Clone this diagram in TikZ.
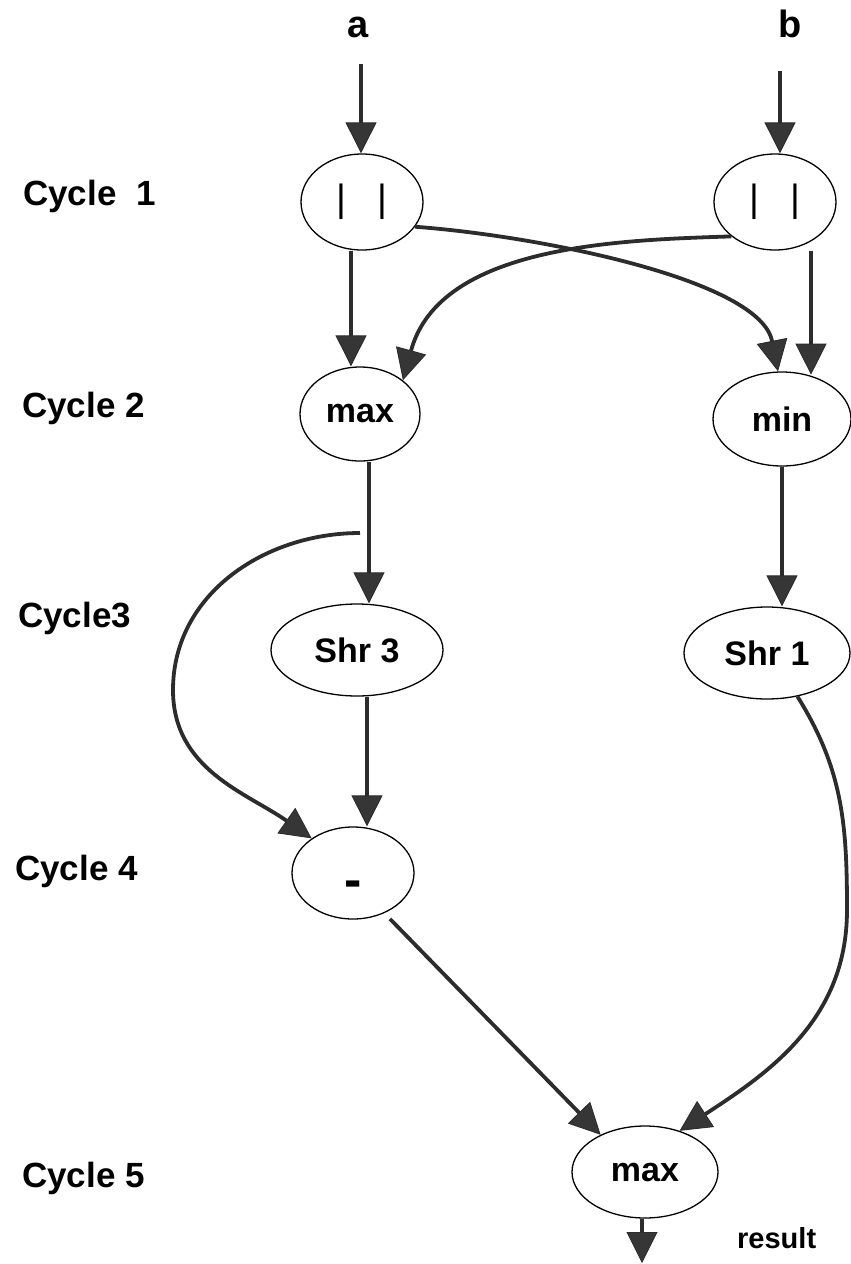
\documentclass[tikz,border=0pt]{standalone}
\usepackage{fontspec}
\setmainfont{Liberation Sans}
\usetikzlibrary{arrows.meta,shapes.geometric,calc}
\definecolor{inkgray}{HTML}{2C2C2C}
\definecolor{headgray}{HTML}{363636}
\begin{document}
\begin{tikzpicture}[x=1pt,y=1pt,
  op/.style={draw=black, line width=1.3pt, ellipse, inner sep=0pt,
             font=\fontsize{34}{40}\selectfont\bfseries},
  cyc/.style={anchor=base west, inner sep=0pt,
              font=\fontsize{35}{42}\selectfont\bfseries},
  inlabel/.style={anchor=base, inner sep=0pt,
                  font=\fontsize{38}{44}\selectfont\bfseries},
  flow/.style={draw=inkgray, line width=3.8pt,
               -{Triangle[width=31pt,length=31pt,fill=headgray,line width=0.9pt]}},
]
\useasboundingbox (0,0) rectangle (851,-1264);
\fill[white] (0,0) rectangle (851,-1264);

% cycle labels
\node[cyc] (c1) at (23,-205)  {Cycle~~1};
\node[cyc] (c2) at (22,-417)  {Cycle 2};
\node[cyc] (c3) at (18,-627)  {Cycle3};
\node[cyc] (c4) at (15,-880)  {Cycle 4};
\node[cyc] (c5) at (22,-1187) {Cycle 5};

% inputs
\node[inlabel] (la) at (358,-37) {a};
\node[inlabel] (lb) at (790,-37) {b};

% operation nodes
\node[op, minimum width=122pt, minimum height=96pt] (pa) at (362,-202)
  {\fontsize{38}{40}\selectfont\mdseries |\hspace{31pt}|};
\node[op, minimum width=122pt, minimum height=96pt] (pb) at (775,-202)
  {\fontsize{38}{40}\selectfont\mdseries |\hspace{31pt}|};
\node[op, minimum width=120pt, minimum height=94pt] (mx) at (360,-414) {max};
\node[op, minimum width=138pt, minimum height=94pt] (mn) at (782,-419) {min};
\node[op, minimum width=172pt, minimum height=92pt] (s3) at (357,-650) {Shr 3};
\node[op, minimum width=166pt, minimum height=92pt] (s1) at (767,-653) {Shr 1};
\node[op, minimum width=122pt, minimum height=92pt] (mi) at (353,-873)
  {\fontsize{52}{54}\selectfont\raisebox{-24pt}[0pt][0pt]{-}};
\node[op, minimum width=146pt, minimum height=92pt] (mf) at (645,-1172) {max};

\node[anchor=base west, inner sep=0pt, font=\fontsize{29}{34}\selectfont\bfseries]
  (lr) at (737,-1248) {result};

% free ends
\coordinate (ta) at (361,-64);
\coordinate (tb) at (780,-71);
\coordinate (br) at (360,-533);
\coordinate (res) at (642,-1263);

% cycle 1
\draw[flow] (ta) -- (ta |- pa.north);
\draw[flow] (tb) -- (tb |- pb.north);

% cycle 1 -> cycle 2
\draw[flow] ([xshift=-11pt]pa.south) -- ([xshift=-11pt]pa.south |- mx.north);
\draw[flow] ([xshift=36pt]pb.south) -- ([xshift=36pt]pb.south |- mn.60);
\draw[flow] (pa.-25) .. controls (540,-236) and (760,-280) .. ([xshift=-4pt]mn.north);
\draw[flow] (pb.south west) .. controls (620,-240) and (440,-245) .. (mx.north east);

% cycle 2 -> cycle 3
\draw[flow] ([xshift=9pt]mx.south) -- ([xshift=9pt]mx.south |- s3.north);
\draw[flow] (mn.south) -- (mn.south |- s1.north);

% cycle 3 -> cycle 4
\draw[flow] ([xshift=10pt]s3.south) -- ([xshift=10pt]s3.south |- mi.north);
\draw[flow] (br) to[out=180,in=90] (173,-690) to[out=-90,in=145] (mi.140);

% cycle 4 -> cycle 5
\draw[flow, shorten <=8pt] (mi.-52) -- (mf.140);
\draw[flow] (s1.-55) to[out=-58,in=90] (847,-910) to[out=-90,in=33] (mf.50);

% result
\draw[flow] ([xshift=-3pt]mf.south) -- (res);
\end{tikzpicture}
\end{document}
